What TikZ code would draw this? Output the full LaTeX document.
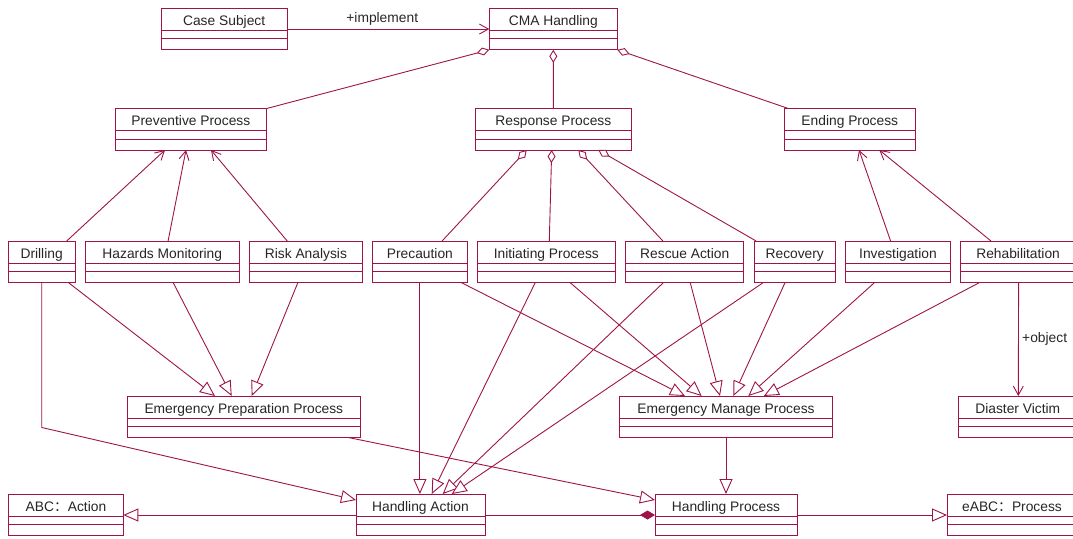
\documentclass[tikz,border=0pt]{standalone}
\usepackage{fontspec}
\setmainfont{Liberation Sans}
\newfontfamily\cjk{Noto Sans CJK SC}
\usepackage{xcolor}
\usepackage{tikz}
\usetikzlibrary{arrows.meta,positioning}
\definecolor{roseline}{RGB}{158,20,72}

\begin{document}
\begin{tikzpicture}[
  x=1pt, y=-1pt,
  umlclass/.style={draw=roseline, line width=1pt, fill=white, anchor=north west,
    minimum height=41.5pt, inner sep=0pt, outer sep=0pt, text height=17pt, text depth=24.5pt,
    font=\fontsize{13.8}{16}\selectfont, text=black!85,
    path picture={\draw[roseline, line width=1pt]
      ([yshift=-22pt]path picture bounding box.north west) -- ([yshift=-22pt]path picture bounding box.north east)
      ([yshift=-30.5pt]path picture bounding box.north west) -- ([yshift=-30.5pt]path picture bounding box.north east);}},
  conn/.style={draw=roseline, line width=0.9pt},
  navarr/.style={conn, -{Straight Barb[length=9pt, width=10pt]}},
  genarr/.style={conn, -{Triangle[fill=white, length=15pt, width=13pt]}},
  aggr/.style={conn, {Diamond[fill=white, length=13pt, width=8pt]}-},
  compo/.style={conn, -{Diamond[length=15pt, width=9pt]}},
  rolelab/.style={font=\fontsize{13.8}{16}\selectfont, text=black!85},
  node distance=10.5pt,
]
\useasboundingbox (0,0) rectangle (1073,538);
\clip (0,0) rectangle (1073,538);

% --- Top row ---
\node[umlclass, minimum width=126.3pt] (casesub) at (161,8.3)   {Case Subject};
\node[umlclass, minimum width=128pt]   (cma)     at (489.3,8.3) {CMA Handling};

% --- Process row ---
\node[umlclass, minimum width=151.7pt] (prevent)  at (115,108.5)   {Preventive Process};
\node[umlclass, minimum width=156.7pt] (response) at (475,108.5)   {Response Process};
\node[umlclass, minimum width=131pt]   (ending)   at (784.3,108.5) {Ending Process};

% --- Activity row ---
\node[umlclass, minimum width=66.7pt]  (drill)      at (8.3,241)  {Drilling};
\node[umlclass, minimum width=153.6pt, right=of drill]      (hazard)     {Hazards Monitoring};
\node[umlclass, minimum width=112.6pt, right=of hazard]     (risk)       {Risk Analysis};
\node[umlclass, minimum width=94.4pt,  right=of risk]       (precaution) {Precaution};
\node[umlclass, minimum width=137.4pt, right=of precaution] (initiate)   {Initiating Process};
\node[umlclass, minimum width=118.4pt, right=of initiate]   (rescue)     {Rescue Action};
\node[umlclass, minimum width=80.7pt,  right=of rescue]     (recovery)   {Recovery};
\node[umlclass, minimum width=104.7pt, right=of recovery]   (investig)   {Investigation};
\node[umlclass, minimum width=114.6pt, right=of investig]   (rehab)      {Rehabilitation};

% --- Grouping row ---
\node[umlclass, minimum width=232.3pt] (epp)    at (127.7,396) {Emergency Preparation Process};
\node[umlclass, minimum width=213.4pt] (emp)    at (619.3,396) {Emergency Manage Process};
\node[umlclass, minimum width=119pt]   (victim) at (958.3,396) {Diaster Victim};

% --- Bottom row ---
\node[umlclass, minimum width=114.7pt] (abc)      at (8.6,494) {ABC{\cjk ：}Action};
\node[umlclass, minimum width=129pt]   (haction)  at (356,494) {Handling Action};
\node[umlclass, minimum width=142pt]   (hprocess) at (655,494) {Handling Process};
\node[umlclass, minimum width=130pt]   (eabc)     at (947,494) {eABC{\cjk ：}Process};

% --- Associations ---
\draw[navarr] (casesub.east) -- node[rolelab, above, pos=0.47] {+implement} (cma.west);
\draw[navarr] ([xshift=58.4pt]drill.north west)  -- ([xshift=50pt]prevent.south west);
\draw[navarr] ([xshift=82.6pt]hazard.north west) -- ([xshift=71pt]prevent.south west);
\draw[navarr] ([xshift=37.6pt]risk.north west)   -- ([xshift=96pt]prevent.south west);
\draw[navarr] ([xshift=45pt]investig.north west) -- ([xshift=74.7pt]ending.south west);
\draw[navarr] ([xshift=30.2pt]rehab.north west)  -- ([xshift=95pt]ending.south west);
\draw[navarr] ([xshift=57.8pt]rehab.south west)  -- node[rolelab, right] {+object} ([xshift=60pt]victim.north west);

% --- Aggregations ---
\draw[aggr] (cma.south west) -- (prevent.north east);
\draw[aggr] (cma.south) -- (response.north);
\draw[aggr] (cma.south east) -- ([xshift=4pt]ending.north west);
\draw[aggr] ([xshift=51.7pt]response.south west)  -- ([xshift=69.4pt]precaution.north west);
\draw[aggr] ([xshift=76.7pt]response.south west)  -- ([xshift=71.7pt]initiate.north west);
\draw[aggr] ([xshift=103.3pt]response.south west) -- ([xshift=37.4pt]rescue.north west);
\draw[aggr] ([xshift=123.3pt]response.south west) -- ([xshift=1.7pt]recovery.north west);

% --- Generalizations ---
\draw[genarr] ([xshift=60pt]drill.south west)   -- ([xshift=87.3pt]epp.north west);
\draw[genarr] ([xshift=87.6pt]hazard.south west) -- ([xshift=104pt]epp.north west);
\draw[genarr] ([xshift=48.3pt]risk.south west)   -- ([xshift=124pt]epp.north west);

\draw[genarr] ([xshift=88.4pt]precaution.south west) -- ([xshift=65.7pt]emp.north west);
\draw[genarr] ([xshift=92.4pt]initiate.south west)   -- ([xshift=82.4pt]emp.north west);
\draw[genarr] ([xshift=64.7pt]rescue.south west)     -- ([xshift=100.7pt]emp.north west);
\draw[genarr] ([xshift=30.7pt]recovery.south west)   -- ([xshift=114pt]emp.north west);
\draw[genarr] ([xshift=29pt]investig.south west)     -- ([xshift=129pt]emp.north west);
\draw[genarr] ([xshift=18.8pt]rehab.south west)      -- ([xshift=144.5pt]emp.north west);

\draw[genarr] (precaution.south) -- (precaution.south |- haction.north);
\draw[genarr] ([xshift=57.7pt]initiate.south west) -- ([xshift=75.7pt]haction.north west);
\draw[genarr] ([xshift=38pt]rescue.south west)     -- ([xshift=86.7pt]haction.north west);
\draw[genarr] ([xshift=9pt]recovery.south west)    -- ([xshift=95.7pt]haction.north west);
\draw[genarr] ([xshift=33.4pt]drill.south west) -- ++(0,145) -- ([yshift=-6pt]haction.north west);

\draw[genarr] ([xshift=220.6pt]epp.south west) -- ([yshift=-6pt]hprocess.north west);
\draw[genarr] (emp.south) -- (hprocess.north);
\draw[genarr] ([yshift=-21pt]haction.north west) -- ([yshift=-21pt]abc.north east);
\draw[genarr] ([yshift=-21pt]hprocess.north east) -- ([yshift=-21pt]eabc.north west);

% --- Composition ---
\draw[compo] ([yshift=-21pt]haction.north east) -- ([yshift=-21pt]hprocess.north west);
\end{tikzpicture}
\end{document}
